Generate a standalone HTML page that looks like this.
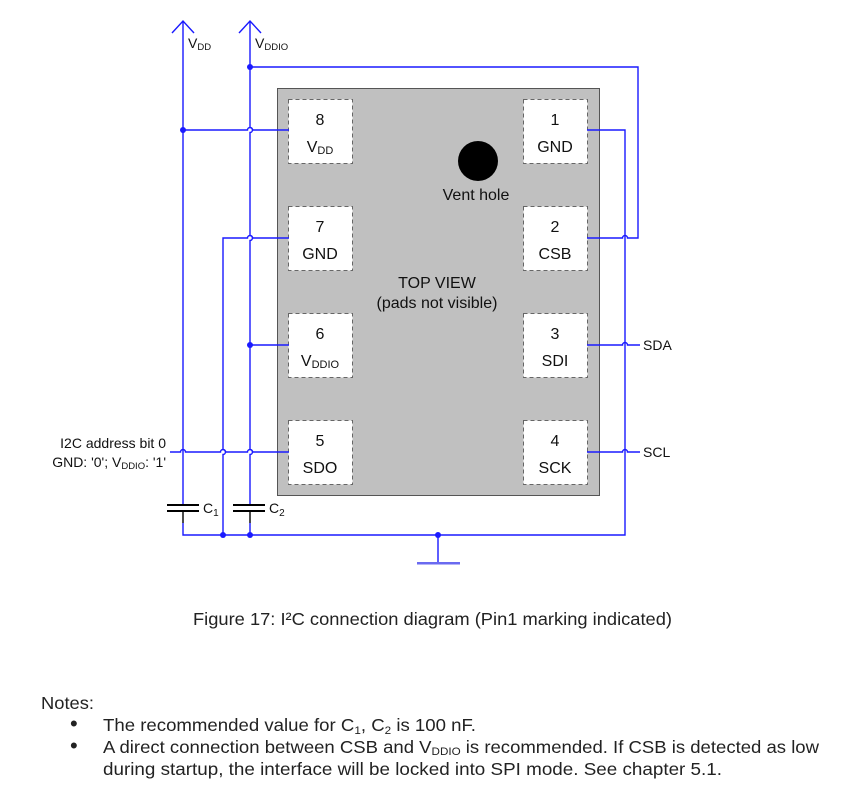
<!DOCTYPE html>
<html><head><meta charset="utf-8"><style>
html,body{margin:0;padding:0;background:#fff;}
svg{display:block;font-family:"Liberation Sans",sans-serif;}
</style></head><body>
<svg width="841" height="788" viewBox="0 0 841 788" xmlns="http://www.w3.org/2000/svg">
<rect x="277.5" y="88.5" width="322" height="407" fill="#c0c0c0" stroke="#555" stroke-width="1"/>
<g fill="#fff" stroke="#666" stroke-width="1" stroke-dasharray="4,3">
<rect x="288.5" y="99.5" width="64" height="64"/>
<rect x="288.5" y="206.5" width="64" height="64"/>
<rect x="288.5" y="313.5" width="64" height="64"/>
<rect x="288.5" y="420.5" width="64" height="64"/>
<rect x="523.5" y="99.5" width="64" height="64"/>
<rect x="523.5" y="206.5" width="64" height="64"/>
<rect x="523.5" y="313.5" width="64" height="64"/>
<rect x="523.5" y="420.5" width="64" height="64"/>
</g>
<circle cx="478" cy="161" r="20" fill="#000"/>
<g font-size="16" fill="#111" text-anchor="middle">
<text x="320" y="125">8</text><text x="320" y="152">V<tspan font-size="11" dy="2">DD</tspan></text>
<text x="320" y="232">7</text><text x="320" y="259">GND</text>
<text x="320" y="339">6</text><text x="320" y="366">V<tspan font-size="11" dy="2">DDIO</tspan></text>
<text x="320" y="446">5</text><text x="320" y="473">SDO</text>
<text x="555" y="125">1</text><text x="555" y="152">GND</text>
<text x="555" y="232">2</text><text x="555" y="259">CSB</text>
<text x="555" y="339">3</text><text x="555" y="366">SDI</text>
<text x="555" y="446">4</text><text x="555" y="473">SCK</text>
<text x="476" y="200">Vent hole</text>
<text x="437" y="288">TOP VIEW</text>
<text x="437" y="308">(pads not visible)</text>
</g>
<g fill="none" stroke="#1a1aff" stroke-width="1.4">
<path d="M183 21 V505 M183 523 V535 H625 V130 H587"/>
<path d="M250 21 V127.5 A2.5 2.5 0 0 1 250 132.5 V235.5 A2.5 2.5 0 0 1 250 240.5 V449.5 A2.5 2.5 0 0 1 250 454.5 V505 M250 523 V535"/>
<path d="M172 33 L183 21 L194 33 M239 33 L250 21 L261 33"/>
<path d="M250 67 H638 V238 H627.5 A2.5 2.5 0 0 0 622.5 238 H587"/>
<path d="M183 130 H247.5 A2.5 2.5 0 0 1 252.5 130 H289"/>
<path d="M223 535 V454.5 A2.5 2.5 0 0 0 223 449.5 V238 H247.5 A2.5 2.5 0 0 1 252.5 238 H289"/>
<path d="M250 345 H289"/>
<path d="M170 452 H180.5 A2.5 2.5 0 0 1 185.5 452 H220.5 A2.5 2.5 0 0 1 225.5 452 H247.5 A2.5 2.5 0 0 1 252.5 452 H289"/>
<path d="M587 345 H622.5 A2.5 2.5 0 0 1 627.5 345 H640"/>
<path d="M587 452 H622.5 A2.5 2.5 0 0 1 627.5 452 H640"/>
<path d="M438 535 V563"/>
</g>
<rect x="417" y="562" width="43" height="2.5" fill="#6a6af0"/>
<g fill="#1a1aff">
<circle cx="183" cy="130" r="3"/><circle cx="250" cy="67" r="3"/><circle cx="250" cy="345" r="3"/>
<circle cx="223" cy="535" r="3"/><circle cx="250" cy="535" r="3"/><circle cx="438" cy="535" r="3"/>
</g>
<g stroke="#000" stroke-width="2">
<path d="M167 505 H199 M167 511 H199 M233 505 H265 M233 511 H265"/>
</g>
<g stroke="#000" stroke-width="1.4"><path d="M183 511 V523 M250 511 V523"/></g>
<g font-size="14" fill="#111">
<text x="188" y="48">V<tspan font-size="9.5" dy="2">DD</tspan></text>
<text x="255" y="48">V<tspan font-size="9.5" dy="2">DDIO</tspan></text>
<text x="203" y="513">C<tspan font-size="10" dy="3">1</tspan></text>
<text x="269" y="513">C<tspan font-size="10" dy="3">2</tspan></text>
<text x="643" y="350">SDA</text>
<text x="643" y="457">SCL</text>
<text x="166" y="448" text-anchor="end">I2C address bit 0</text>
<text x="166" y="467" text-anchor="end">GND: '0'; V<tspan font-size="9.5" dy="2">DDIO</tspan><tspan dy="-2">: '1'</tspan></text>
</g>
<g font-size="17.5" fill="#222">
<text x="193" y="625" textLength="479" lengthAdjust="spacingAndGlyphs">Figure 17: I²C connection diagram (Pin1 marking indicated)</text>
<text x="41" y="709" textLength="53" lengthAdjust="spacingAndGlyphs">Notes:</text>
<text x="70" y="731" font-size="22">•</text>
<text x="103" y="731" textLength="373" lengthAdjust="spacingAndGlyphs">The recommended value for C<tspan font-size="11" dy="3">1</tspan><tspan dy="-3">, C</tspan><tspan font-size="11" dy="3">2</tspan><tspan dy="-3"> is 100 nF.</tspan></text>
<text x="70" y="753" font-size="22">•</text>
<text x="103" y="753" textLength="716" lengthAdjust="spacingAndGlyphs">A direct connection between CSB and V<tspan font-size="11" dy="2">DDIO</tspan><tspan dy="-2"> is recommended. If CSB is detected as low</tspan></text>
<text x="103" y="775" textLength="619" lengthAdjust="spacingAndGlyphs">during startup, the interface will be locked into SPI mode. See chapter 5.1.</text>
</g>
</svg>
</body></html>
